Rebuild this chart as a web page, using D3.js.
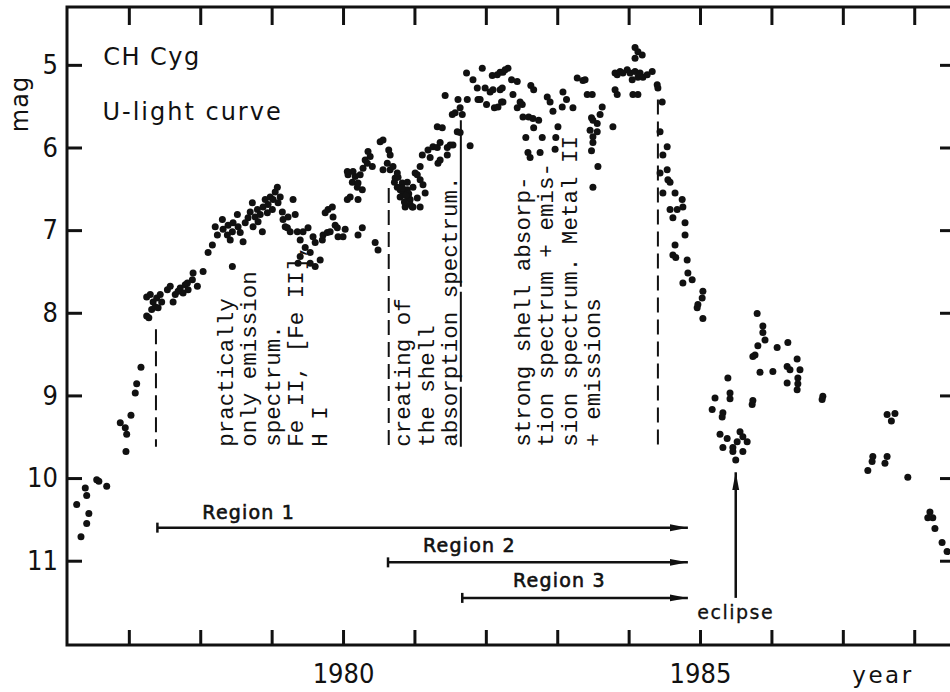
<!DOCTYPE html>
<html><head><meta charset="utf-8">
<script src="https://cdn.jsdelivr.net/npm/d3@7/dist/d3.min.js"></script>
<style>
body{margin:0;background:#fff}
svg{display:block}
.num{font-family:"Liberation Sans Narrow","Arial Narrow","DejaVu Sans Condensed",sans-serif;font-stretch:condensed}
.mono{font-family:"Liberation Mono","DejaVu Sans Mono",monospace}
</style>
</head><body>
<svg id="c" width="950" height="692"></svg>
<script>
// ---------- data: [year, U magnitude] ----------
const season1976 = [[1976.27,10.32],[1976.33,10.71],[1976.39,10.12],[1976.41,10.21],[1976.41,10.55],[1976.44,10.43],[1976.55,10.02],[1976.58,10.04],[1976.69,10.10]];
const season1977 = [[1976.88,9.33],[1976.95,9.39],[1976.97,9.47],[1976.96,9.68],[1977.03,9.24],[1977.09,8.97],[1977.11,8.86],[1977.17,8.66],
 [1977.25,8.04],[1977.28,8.06],[1977.32,7.96],[1977.25,7.81],[1977.30,7.78],[1977.34,7.87],[1977.39,7.82],[1977.44,7.78],[1977.37,7.93],[1977.41,7.94],[1977.46,7.87],[1977.54,7.72],[1977.58,7.68],[1977.62,7.87],[1977.65,7.78],[1977.69,7.74],[1977.72,7.70],[1977.76,7.76],[1977.79,7.66],[1977.83,7.72],[1977.82,7.64],[1977.89,7.60],[1977.90,7.52],[1977.96,7.68],[1978.04,7.50]];
const season1978 = [[1978.11,7.27],[1978.17,7.18],[1978.21,6.96],[1978.24,7.06],[1978.31,6.87],[1978.32,6.99],[1978.38,7.06],[1978.39,6.94],[1978.42,7.12],[1978.45,7.02],[1978.46,6.91],[1978.45,7.44],
 [1978.52,6.81],[1978.53,6.96],[1978.56,7.03],[1978.60,7.14],[1978.63,6.91],[1978.67,6.85],[1978.70,6.78],[1978.73,6.67],[1978.74,6.96],[1978.77,6.84],[1978.80,6.75],[1978.81,6.90],[1978.84,6.81],[1978.87,7.02],[1978.88,6.72],[1978.91,6.63],[1978.94,6.79],[1978.95,6.69],[1978.98,6.60]];
const season1979 = [[1979.01,6.75],[1979.02,6.63],[1979.05,6.54],[1979.08,6.48],[1979.09,6.67],[1979.12,6.60],[1979.15,6.78],[1979.16,6.87],[1979.19,6.96],[1979.22,6.97],[1979.23,6.84],[1979.26,7.02],[1979.30,6.63],[1979.33,6.81],[1979.36,7.02],[1979.40,7.12],[1979.44,7.02],[1979.47,7.21],[1979.51,6.97],[1979.40,7.32],[1979.37,7.40],[1979.54,7.27],[1979.54,7.40],[1979.61,7.44],[1979.61,7.15],[1979.58,7.08],[1979.68,7.36],[1979.71,7.12],[1979.72,7.06],[1979.78,7.03],[1979.82,7.02],[1979.75,6.79],[1979.79,6.75],[1979.85,6.72],[1979.86,6.84],[1979.89,6.94],[1979.92,6.97],[1979.93,7.08]];
const season1980 = [[1980.00,7.08],[1980.03,6.99],[1980.06,6.63],[1980.10,6.60],[1980.07,6.33],[1980.06,6.29],[1980.13,6.42],[1980.14,6.29],[1980.17,6.35],[1980.20,6.48],[1980.21,6.43],[1980.24,6.33],[1980.27,6.51],[1980.28,6.25],[1980.31,6.15],[1980.34,6.19],[1980.35,6.05],[1980.38,6.11],[1980.41,6.23],[1980.21,6.63],[1980.27,6.97],[1980.21,7.06],[1980.45,7.15],[1980.49,7.24],
 [1980.52,5.93],[1980.56,5.91],[1980.64,6.03],[1980.66,6.09],[1980.62,6.19],[1980.56,6.27],[1980.66,6.27],[1980.70,6.23],[1980.73,6.37],[1980.77,6.36],[1980.76,6.48],[1980.80,6.51],[1980.83,6.43],[1980.84,6.55],[1980.90,6.51],[1980.90,6.42],[1980.91,6.60],[1980.94,6.63],[1980.87,6.72],[1980.94,6.69],[1980.97,6.72],[1980.98,6.48],[1980.76,6.31],[1980.98,6.72],
 [1980.80,6.60],[1980.86,6.66],[1980.92,6.56],[1980.83,6.49],[1980.72,6.42],[1980.88,6.58]];
const season1981 = [[1981.01,6.31],[1981.04,6.33],[1981.04,6.61],[1981.08,6.39],[1981.08,6.23],[1981.12,6.45],[1981.15,6.55],[1981.08,6.72],
 [1981.11,6.09],[1981.19,6.03],[1981.22,6.12],[1981.26,5.99],[1981.32,6.00],[1981.33,6.19],[1981.36,6.15],[1981.46,6.09],[1981.46,6.00],[1981.50,5.97],[1981.54,5.97],[1981.32,5.75],[1981.39,5.76],[1981.36,5.94],[1981.53,5.60],[1981.57,5.58],[1981.64,5.52],[1981.67,5.60],[1981.60,5.81],[1981.64,5.82],[1981.43,5.37],[1981.61,5.42],[1981.78,5.98],[1981.74,5.42],[1981.73,5.10],[1981.82,5.18],[1981.88,5.28],[1981.95,5.04],[1981.89,5.42],[1981.92,5.42],[1981.99,5.28]];
const season1982 = [[1982.01,5.48],[1982.09,5.13],[1982.16,5.12],[1982.20,5.09],[1982.24,5.09],[1982.31,5.04],[1982.27,5.06],[1982.10,5.30],[1982.20,5.30],[1982.06,5.33],[1982.12,5.52],[1982.17,5.51],[1982.22,5.45],[1982.24,5.45],[1982.23,5.28],[1982.36,5.18],[1982.44,5.20],[1982.38,5.36],[1982.48,5.45],[1982.51,5.48],[1982.44,5.52],[1982.63,5.25],[1982.67,5.30],[1982.52,5.63],[1982.60,5.63],[1982.66,5.65],[1982.74,5.67],[1982.67,5.76],[1982.56,5.88],[1982.86,5.39],[1982.90,5.45],[1982.94,5.56],[1982.79,5.88],[1982.59,6.06],[1982.62,6.12],[1982.76,6.06]];
const season1983 = [[1983.08,5.33],[1983.13,5.42],[1983.07,5.51],[1983.01,5.75],[1982.98,5.88],[1982.97,6.02],[1983.22,5.52],[1983.28,5.16],[1983.36,5.19],[1983.39,5.18],[1983.42,5.36],[1983.49,5.36],[1983.63,5.51],[1983.48,5.64],[1983.50,5.67],[1983.56,5.71],[1983.60,5.60],[1983.56,5.81],[1983.46,5.79],[1983.50,5.87],[1983.50,5.94],[1983.48,6.04],[1983.78,5.75],[1983.57,6.23],[1983.50,6.48],[1983.81,5.30],[1983.84,5.36],[1983.84,5.12]];
const season1984 = [[1983.81,5.10],[1983.88,5.08],[1983.92,5.10],[1983.98,5.06],[1984.02,5.10],[1984.05,5.18],[1984.09,5.08],[1984.13,5.15],[1984.16,5.10],[1984.20,5.15],[1984.26,5.12],[1984.09,4.79],[1984.13,4.84],[1984.19,4.88],[1984.09,4.92],[1984.33,5.08],[1984.40,5.24],[1984.41,5.28],[1984.06,5.36],[1984.13,5.36],[1984.47,5.45],
 [1984.44,5.81],[1984.54,5.99],[1984.48,6.09],[1984.44,6.31],[1984.54,6.27],[1984.55,6.39],[1984.58,6.42],[1984.48,6.55],[1984.65,6.55],[1984.75,6.63],[1984.76,6.72],[1984.58,6.75],[1984.68,6.75],[1984.62,6.85],[1984.79,6.91],[1984.79,7.06],[1984.65,7.18],[1984.62,7.30],[1984.66,7.33],[1984.82,7.36],[1984.83,7.52],[1984.76,7.64],[1984.89,7.60],[1985.04,7.74],[1985.03,7.82],[1984.97,7.90],[1984.96,7.94],[1985.04,8.07]];
const season1985 = [[1985.17,9.17],[1985.21,9.03],[1985.32,9.21],[1985.31,9.26],[1985.39,8.79],[1985.42,8.97],[1985.42,9.04],[1985.28,9.47],[1985.38,9.52],[1985.32,9.63],[1985.46,9.63],[1985.56,9.44],[1985.60,9.50],[1985.66,9.56],[1985.52,9.56],[1985.46,9.68],[1985.60,9.68],[1985.50,9.78],[1985.74,9.06],[1985.73,9.11],
 [1985.80,8.01],[1985.88,8.16],[1985.88,8.24],[1985.91,8.33],[1985.81,8.40],[1985.77,8.51],[1985.74,8.53],[1985.84,8.72]];
const season1986 = [[1986.02,8.71],[1986.08,8.42],[1986.23,8.36],[1986.36,8.56],[1986.22,8.65],[1986.26,8.69],[1986.40,8.69],[1986.22,8.85],[1986.37,8.79],[1986.37,8.86],[1986.36,8.93],[1986.72,9.01],[1986.71,9.05]];
const season1987 = [[1987.62,9.23],[1987.73,9.22],[1987.68,9.31],[1987.42,9.74],[1987.62,9.74],[1987.41,9.80],[1987.59,9.82],[1987.35,9.91],[1987.91,9.99],
 [1988.22,10.41],[1988.26,10.48],[1988.19,10.48],[1988.29,10.61],[1988.39,10.78],[1988.46,10.89]];

const yTicks = [5,6,7,8,9,10,11];
const xTicks = [1977,1978,1979,1980,1981,1982,1983,1984,1985,1986,1987,1988];
const xLabels = [1980,1985];

// phase boundaries (dashed) and the spectral notes
const boundaryYear = [1977.38,1980.64,1984.41];
const boundaryTop = [8.20,6.49,5.42];
const boundaryBottom = [9.62,9.62,9.62];
const notesA = ["practically","only emission","spectrum.","Fe II, [Fe II],","H I"];
const notesB = ["creating of","the shell","absorption spectrum."];
const notesC = ["strong shell absorp-","tion spectrum + emis-","sion spectrum. Metal II","+ emissions"];
const noteYear = [1978.46,1980.94,1982.62];
const noteMag = 9.62;
const underlineYear = 1981.65, underlineFrom = 9.62, underlineTo = 5.67;

// regions
const regionNames = ["Region 1","Region 2","Region 3"];
const regionStart = [1977.40,1980.63,1981.67];
const regionEnd = [1984.83,1984.83,1984.83];
const regionMag = [10.60,11.02,11.45];
const regionLabelYear = [1978.03,1981.12,1982.38];
const regionLabelMag = [10.50,10.89,11.32];

const eclipseYear = 1985.50, eclipseFrom = 11.45, eclipseTo = 9.93, eclipseLabelMag = 11.71;

// ---------- chart ----------
const W = 950, H = 692;
const L = 67, R = 955, T = 7, B = 645;
const svg = d3.select("#c");
svg.append("rect").attr("width",W).attr("height",H).attr("fill","#fff");

const x = d3.scaleLinear().domain([1976.134,1988.571]).range([L,R]);
const y = d3.scaleLinear().domain([4.30,12.02]).range([T,B]);

const ink = "#111";

// frame
svg.append("rect").attr("x",L).attr("y",T).attr("width",R-L).attr("height",B-T)
  .attr("fill","none").attr("stroke",ink).attr("stroke-width",3);

function styleAxis(g){
  g.select(".domain").remove();
  g.selectAll(".tick line").attr("stroke",ink).attr("stroke-width",3);
}
svg.append("g").attr("transform",`translate(${L},0)`)
  .call(d3.axisLeft(y).tickValues(yTicks).tickSizeInner(-15).tickSizeOuter(0).tickPadding(9))
  .call(styleAxis)
  .call(g=>g.selectAll("text").attr("class","num").attr("font-size",27).attr("fill",ink).attr("font-family",null));
svg.append("g").attr("transform",`translate(${R},0)`)
  .call(d3.axisRight(y).tickValues(yTicks).tickSizeInner(-15).tickSizeOuter(0).tickFormat(""))
  .call(styleAxis);
svg.append("g").attr("transform",`translate(0,${B})`)
  .call(d3.axisBottom(x).tickValues(xTicks).tickSizeInner(-15).tickSizeOuter(0).tickPadding(19)
     .tickFormat(d=>xLabels.includes(d)?String(d):""))
  .call(styleAxis)
  .call(g=>g.selectAll("text").attr("class","num").attr("font-size",27).attr("fill",ink).attr("font-family",null));
svg.append("g").attr("transform",`translate(0,${T})`)
  .call(d3.axisTop(x).tickValues(xTicks).tickSizeInner(-18).tickSizeOuter(0).tickFormat(""))
  .call(styleAxis);

// axis titles
svg.append("text").attr("transform","translate(28,104) rotate(-90)")
  .attr("text-anchor","middle").attr("font-family","DejaVu Sans, sans-serif")
  .attr("font-size",24).attr("letter-spacing",1).attr("fill",ink).text("mag");
svg.append("text").attr("x",883).attr("y",683).attr("text-anchor","middle")
  .attr("font-family","DejaVu Sans, sans-serif").attr("font-size",23).attr("letter-spacing",2.5)
  .attr("fill",ink).text("year");

// titles inside plot
svg.append("text").attr("x",x(1976.64)).attr("y",y(5.0)).attr("font-family","DejaVu Sans, sans-serif")
  .attr("font-size",24).attr("letter-spacing",1.5).attr("fill",ink).text("CH Cyg");
svg.append("text").attr("x",x(1976.63)).attr("y",y(5.665)).attr("font-family","DejaVu Sans, sans-serif")
  .attr("font-size",24).attr("letter-spacing",2).attr("fill",ink).text("U-light curve");

// dashed phase boundaries
svg.append("g").selectAll("line").data(boundaryYear).join("line")
  .attr("x1",d=>x(d)).attr("x2",d=>x(d))
  .attr("y1",(d,i)=>y(boundaryTop[i])).attr("y2",(d,i)=>y(boundaryBottom[i]))
  .attr("stroke",ink).attr("stroke-width",2).attr("stroke-dasharray","15,7");
svg.append("line").attr("x1",x(underlineYear)).attr("x2",x(underlineYear))
  .attr("y1",y(underlineFrom)).attr("y2",y(underlineTo))
  .attr("stroke",ink).attr("stroke-width",2).attr("stroke-dasharray","60,5,90,5,200");

// spectral notes (rotated typewriter text)
[notesA,notesB,notesC].forEach((lines,k)=>{
  const t = svg.append("text").attr("class","mono")
    .attr("transform",`translate(${x(noteYear[k])},${y(noteMag)}) rotate(-90)`)
    .attr("font-size",22.5).attr("fill",ink);
  t.selectAll("tspan").data(lines).join("tspan")
    .attr("x",0).attr("dy",(d,i)=>i===0?0:"1.04em").text(d=>d);
});

// dots
const allSeasons = [season1976,season1977,season1978,season1979,season1980,season1981,season1982,season1983,season1984,season1985,season1986,season1987];
svg.append("g").selectAll("circle").data(allSeasons.flat()).join("circle")
  .attr("cx",d=>x(d[0])).attr("cy",d=>y(d[1])).attr("r",3.5).attr("fill",ink);

// region arrows
const defs = svg.append("defs");
defs.append("marker").attr("id","ah").attr("markerUnits","userSpaceOnUse")
  .attr("markerWidth",20).attr("markerHeight",10).attr("refX",18).attr("refY",5).attr("orient","auto")
  .append("path").attr("d","M0,1.5 L18,5 L0,8.5 Z").attr("fill",ink);
defs.append("marker").attr("id","bar").attr("markerUnits","userSpaceOnUse")
  .attr("markerWidth",6).attr("markerHeight",14).attr("refX",3).attr("refY",7).attr("orient","auto")
  .append("path").attr("d","M3,2 L3,12").attr("stroke",ink).attr("stroke-width",2.5);

const rg = svg.append("g");
regionNames.forEach((name,i)=>{
  rg.append("line").attr("x1",x(regionStart[i])).attr("x2",x(regionEnd[i]))
    .attr("y1",y(regionMag[i])).attr("y2",y(regionMag[i]))
    .attr("stroke",ink).attr("stroke-width",2.5)
    .attr("marker-end","url(#ah)").attr("marker-start","url(#bar)");
  rg.append("text").attr("x",x(regionLabelYear[i])).attr("y",y(regionLabelMag[i]))
    .attr("font-family","DejaVu Sans, sans-serif")
    .attr("font-size",19).attr("letter-spacing",1.2).attr("fill",ink)
    .attr("stroke",ink).attr("stroke-width",0.6).text(name);
});

// eclipse arrow
svg.append("line").attr("x1",x(eclipseYear)).attr("x2",x(eclipseYear))
  .attr("y1",y(eclipseFrom)).attr("y2",y(eclipseTo))
  .attr("stroke",ink).attr("stroke-width",2.5).attr("marker-end","url(#ah)");
svg.append("text").attr("x",x(eclipseYear)).attr("y",y(eclipseLabelMag)).attr("text-anchor","middle")
  .attr("font-family","DejaVu Sans, sans-serif").attr("font-size",19).attr("letter-spacing",1.5)
  .attr("stroke",ink).attr("stroke-width",0.3)
  .attr("fill",ink).text("eclipse");
</script>
</body></html>
